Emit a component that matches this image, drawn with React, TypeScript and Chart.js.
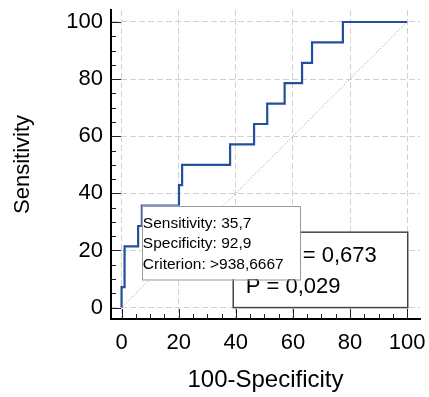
import React, { useEffect, useRef } from 'react';
import { Chart, registerables } from 'chart.js';

Chart.register(...registerables);

// ROC curve corner points (100-Specificity, Sensitivity)
const rocX = [0, 0, 1.05, 5.8, 7.1, 20.1, 21.2, 38, 46.4, 51, 57.1, 63.2, 66.7, 77.5, 100];
const rocY = [0, 7.14, 21.43, 28.57, 35.71, 42.86, 50, 57.14, 64.29, 71.43, 78.57, 85.71, 92.86, 100, 100];
// reference diagonal
const refX = [0, 100];
const refY = [0, 100];
// tick values (minor every 5, labelled every 20)
const tickValues = [0, 5, 10, 15, 20, 25, 30, 35, 40, 45, 50, 55, 60, 65, 70, 75, 80, 85, 90, 95, 100];
const majorStep = 20;
const xTitle = '100-Specificity';
const yTitle = 'Sensitivity';
const tooltipLines = ['Sensitivity: 35,7', 'Specificity: 92,9', 'Criterion: >938,6667'];
const tooltipPointIndex = 4;
const statLines = ['AUC = 0,673', 'P = 0,029'];

const FONT = '"Liberation Sans", Arial, Helvetica, sans-serif';

const overlayPlugin = {
  id: 'overlayPlugin',
  afterDraw(chart: any) {
    const { ctx, chartArea, scales } = chart;
    const xs = scales.x;
    const ys = scales.y;
    ctx.save();
    // inward tick marks
    ctx.strokeStyle = '#222';
    ctx.lineWidth = 1;
    for (const v of tickValues) {
      const len = v % majorStep === 0 ? 10 : 5;
      const py = Math.round(ys.getPixelForValue(v)) + 0.5;
      ctx.beginPath();
      ctx.moveTo(chartArea.left, py);
      ctx.lineTo(chartArea.left + len, py);
      ctx.stroke();
      const px = Math.round(xs.getPixelForValue(v)) + 0.5;
      ctx.beginPath();
      ctx.moveTo(px, chartArea.bottom);
      ctx.lineTo(px, chartArea.bottom - len);
      ctx.stroke();
    }

    // statistics box
    const l = xs.getPixelForValue(39.1);
    const r = xs.getPixelForValue(100.2);
    const t = ys.getPixelForValue(26.4);
    const b = ys.getPixelForValue(0);
    ctx.fillStyle = '#fff';
    ctx.fillRect(l, t, r - l, b - t);
    ctx.strokeStyle = '#444';
    ctx.lineWidth = 1.5;
    ctx.strokeRect(l, t, r - l, b - t);
    ctx.fillStyle = '#000';
    ctx.font = '22px ' + FONT;
    ctx.textBaseline = 'alphabetic';
    ctx.textAlign = 'left';
    ctx.fillText(statLines[0], l + 17, t + 30);
    ctx.fillText(statLines[1], l + 12.5, t + 61);

    // hover tooltip box anchored at the ROC point
    const tx = xs.getPixelForValue(rocX[tooltipPointIndex]);
    const ty = ys.getPixelForValue(rocY[tooltipPointIndex]);
    const tw = 158;
    const th = 73.5;
    ctx.fillStyle = '#fff';
    ctx.fillRect(tx, ty, tw, th);
    ctx.strokeStyle = '#999';
    ctx.lineWidth = 1;
    ctx.strokeRect(Math.round(tx) + 0.5, Math.round(ty) + 0.5, tw, th);
    ctx.fillStyle = '#000';
    ctx.font = '15.5px ' + FONT;
    tooltipLines.forEach((line, i) => {
      ctx.fillText(line, tx + 1, ty + 22 + i * 20.8);
    });
    ctx.restore();
  },
};

export default function App() {
  const canvasRef = useRef<HTMLCanvasElement | null>(null);

  useEffect(() => {
    if (!canvasRef.current) return;
    const tickFont = { family: FONT, size: 22 };
    const gridColor = (c: any) =>
      c.tick && c.tick.value % majorStep === 0 ? '#d2d2d2' : 'rgba(0,0,0,0)';
    const labelCb = (v: any) => (Number(v) % majorStep === 0 ? String(v) : '');
    const chart = new Chart(canvasRef.current, {
      type: 'line',
      data: {
        datasets: [
          {
            data: rocX.map((x, i) => ({ x, y: rocY[i] })),
            borderColor: '#234f9b',
            borderWidth: 2.2,
            stepped: 'before',
            pointRadius: 0,
            fill: false,
            order: 1,
          },
          {
            data: refX.map((x, i) => ({ x, y: refY[i] })),
            borderColor: 'rgba(175,110,110,0.85)',
            borderWidth: 1,
            borderDash: [1, 2],
            pointRadius: 0,
            fill: false,
            order: 2,
          },
        ],
      },
      options: {
        animation: false,
        responsive: false,
        layout: { padding: { top: 10, right: 9, left: 0, bottom: 0 } },
        plugins: { legend: { display: false }, tooltip: { enabled: false } },
        scales: {
          x: {
            type: 'linear',
            min: -3.7,
            max: 104.5,
            afterBuildTicks: (s: any) => {
              s.ticks = tickValues.map((value) => ({ value }));
            },
            afterFit: (s: any) => {
              s.height = 78;
              s.paddingLeft = 0;
              s.paddingRight = 0;
              s.paddingTop = 0;
              s.paddingBottom = 0;
            },
            ticks: {
              autoSkip: false,
              maxRotation: 0,
              padding: 11,
              color: '#000',
              font: tickFont,
              callback: labelCb,
            },
            grid: { drawTicks: false, color: gridColor, lineWidth: 1 },
            border: { display: true, color: '#000', width: 2, dash: [6, 3] },
            title: {
              display: true,
              text: xTitle,
              color: '#000',
              font: { family: FONT, size: 24 },
              padding: { top: 0, bottom: 2 },
            },
          },
          y: {
            type: 'linear',
            min: -4,
            max: 104.2,
            afterBuildTicks: (s: any) => {
              s.ticks = tickValues.map((value) => ({ value }));
            },
            afterFit: (s: any) => {
              s.width = 111;
              s.paddingLeft = 0;
              s.paddingRight = 0;
              s.paddingTop = 0;
              s.paddingBottom = 0;
            },
            ticks: {
              autoSkip: false,
              padding: 8,
              color: '#000',
              font: tickFont,
              callback: labelCb,
            },
            grid: { drawTicks: false, color: gridColor, lineWidth: 1 },
            border: { display: true, color: '#000', width: 2, dash: [6, 3] },
            title: {
              display: true,
              text: yTitle,
              color: '#000',
              font: tickFont,
              padding: { top: 10, bottom: 0 },
            },
          },
        },
      },
      plugins: [overlayPlugin],
    } as any);
    return () => chart.destroy();
  }, []);

  return (
    <div style={{ position: 'fixed', left: 0, top: 0, width: 429, height: 397, background: '#fff' }}>
      <canvas ref={canvasRef} width={429} height={397} style={{ display: 'block' }} />
    </div>
  );
}
